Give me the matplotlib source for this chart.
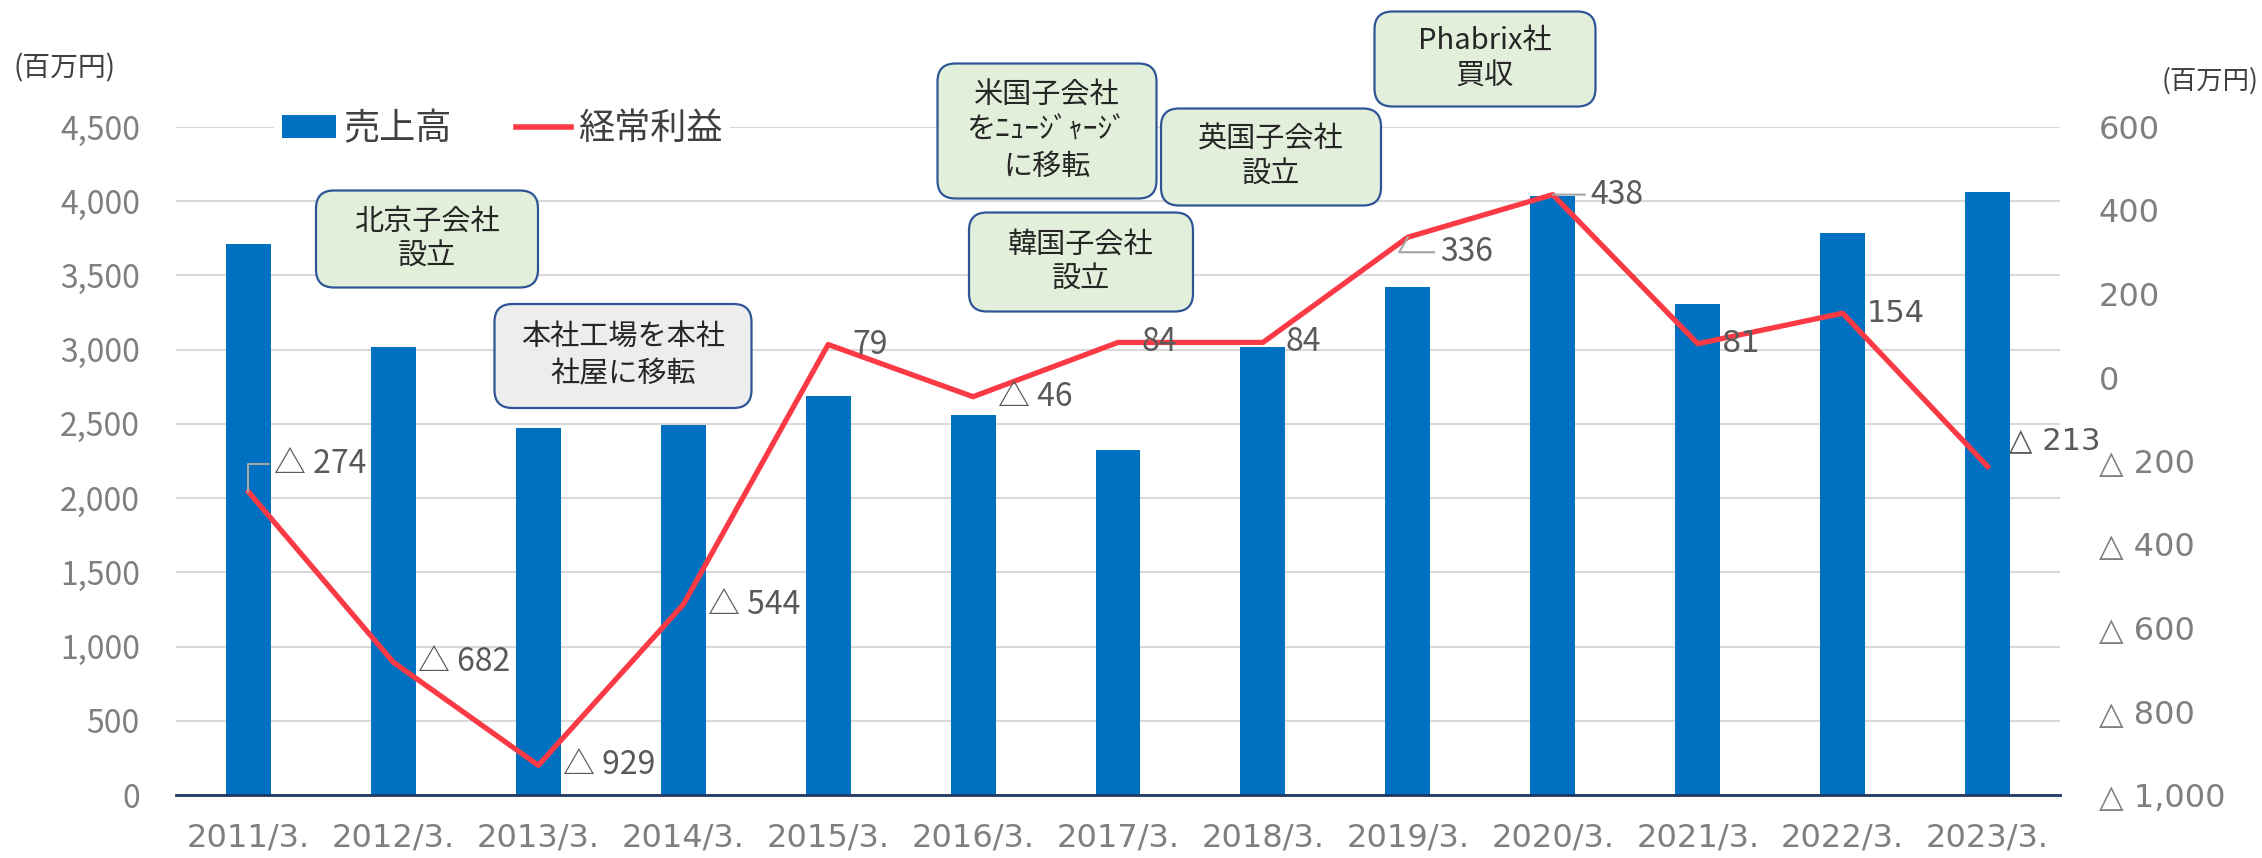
import numpy as np
import matplotlib.pyplot as plt
from matplotlib.patches import FancyBboxPatch, Patch
from matplotlib.lines import Line2D

JP = 'Noto Sans CJK JP'
WIDE = ['DejaVu Sans', JP]
plt.rcParams['font.family'] = [JP, 'DejaVu Sans']

# data
years = ['2011/3.', '2012/3.', '2013/3.', '2014/3.', '2015/3.', '2016/3.', '2017/3.',
         '2018/3.', '2019/3.', '2020/3.', '2021/3.', '2022/3.', '2023/3.']
sales = [3710, 3015, 2475, 2490, 2689, 2559, 2322, 3018, 3425, 4035, 3308, 3786, 4063]
profit = [-274, -682, -929, -544, 79, -46, 84, 84, 336, 438, 81, 154, -213]
sales_ticks = list(range(0, 4501, 500))
profit_ticks = list(range(-1000, 601, 200))
series_names = ['売上高', '経常利益']
unit_label = '(百万円)'
events = ['北京子会社\n設立', '本社工場を本社\n社屋に移転', '米国子会社\nをﾆｭｰｼﾞｬｰｼﾞ\nに移転',
          '韓国子会社\n設立', '英国子会社\n設立', 'Phabrix社\n買収']

BLUE = '#0070C0'
RED = '#FB3A45'
GRID = '#D9D9D9'
TICK = '#7F7F7F'
LABEL = '#595959'

W, H = 2262, 858


def fmt(v):
    return f'{v:,}' if v >= 0 else f'△ {-v:,}'


fig = plt.figure(figsize=(W / 100, H / 100), dpi=100)
ax = fig.add_axes([176 / W, 63 / H, (2060 - 176) / W, (795 - 127) / H])
ax2 = ax.twinx()

x = np.arange(len(years))
ax.bar(x, sales, width=0.31, color=BLUE, zorder=2)
ax.set_xlim(-0.5, len(years) - 0.5)
ax.set_ylim(0, 4500)
ax.set_yticks(sales_ticks)
ax.set_yticklabels([fmt(v) for v in sales_ticks], fontsize=23, color=TICK, family=JP)
ax.set_xticks(x)
ax.set_xticklabels(years, fontsize=23, color=TICK, family=WIDE)
ax.yaxis.grid(True, color=GRID, lw=1.5)
ax.set_axisbelow(True)
ax.tick_params(axis='y', length=0, pad=26)
ax.tick_params(axis='x', length=0, pad=20)
for s in ['top', 'left', 'right']:
    ax.spines[s].set_visible(False)
ax.spines['bottom'].set_color('#1F3864')
ax.spines['bottom'].set_linewidth(2)

ax2.plot(x, profit, color=RED, lw=3.8, zorder=3)
ax2.set_ylim(-1000, 600)
ax2.set_yticks(profit_ticks)
ax2.set_yticklabels([fmt(v) for v in profit_ticks], fontsize=23, color=TICK, family=WIDE)
ax2.tick_params(axis='y', length=0, pad=28)
for s in ax2.spines.values():
    s.set_visible(False)

# data labels: offsets in pixels (dx, dy up), leader style
offsets = [(26, 28), (25, 0), (25, 0), (25, 0), (24, 0), (25, 0), (23, 0),
           (23, 0), (32, -15), (38, 0), (24, 0), (24, 0), (21, 26)]
leaders = {0: 'angle,angleA=0,angleB=90', 8: 'angle,angleA=0,angleB=60', 9: 'arc3'}
for i, v in enumerate(profit):
    dx, dy = offsets[i]
    kw = {}
    if i in leaders:
        kw['arrowprops'] = dict(arrowstyle='-', color='#A6A6A6', lw=1.5, shrinkA=2, shrinkB=0,
                                relpos=(0, 0.5), connectionstyle=leaders[i])
    ax2.annotate(fmt(v), xy=(i, v), xytext=(dx * 0.72, dy * 0.72), textcoords='offset points',
                 ha='left', va='center', fontsize=23 if i < 10 else 22, color=LABEL,
                 family=JP if i < 10 else WIDE, zorder=4, **kw)

# callout boxes (pixel layout of the reference: centre x, centre y, width, height)
boxes = [(427, 239, 222, 97), (623, 356, 257, 104), (1047, 131, 219, 135),
         (1081, 262, 224, 99), (1271, 157, 220, 97), (1485, 59, 221, 95)]
faces = ['#E2EFDA', '#EDEDED', '#E2EFDA', '#E2EFDA', '#E2EFDA', '#E2EFDA']
for text, (cx, cy, bw, bh), fc in zip(events, boxes, faces):
    x0 = (cx - bw / 2) / 100
    y0 = (H - cy - bh / 2) / 100
    p = FancyBboxPatch((x0, y0), bw / 100, bh / 100,
                       boxstyle='round,pad=0,rounding_size=0.18',
                       transform=fig.dpi_scale_trans, facecolor=fc,
                       edgecolor='#2F5597', lw=1.6, zorder=6)
    fig.patches.append(p)
    fig.text(cx / 100, (H - cy) / 100, text, transform=fig.dpi_scale_trans,
             ha='center', va='center', fontsize=21, color='#262626',
             linespacing=1.25, zorder=7)

fig.text(14 / W, 1 - 68 / H, unit_label, ha='left', va='center', fontsize=20, color='#404040')
fig.text(2259 / W, 1 - 81 / H, unit_label, ha='right', va='center', fontsize=19, color='#404040')

handles = [Patch(facecolor=BLUE), Line2D([], [], color=RED, lw=4)]
leg = fig.legend(handles, series_names, ncol=2, loc='center',
                 bbox_to_anchor=(502 / W, 1 - 129 / H), fontsize=26,
                 handlelength=1.5, handleheight=0.6, handletextpad=0.2,
                 columnspacing=1.8, borderpad=0.2, frameon=True, fancybox=False)
leg.get_frame().set_facecolor('white')
leg.get_frame().set_edgecolor('none')
leg.get_frame().set_alpha(1)
for t in leg.get_texts():
    t.set_color('#404040')

fig.savefig('out.png', dpi=100)
